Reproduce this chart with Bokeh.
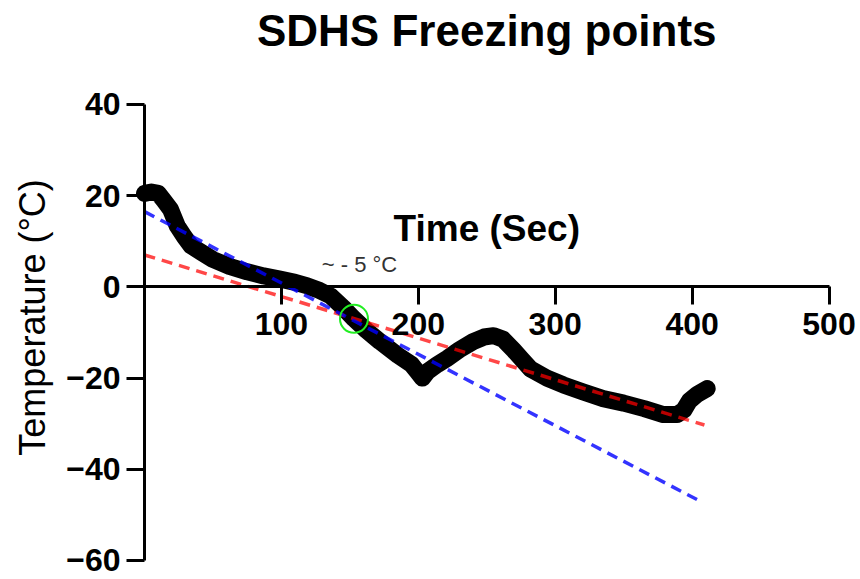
import math
from bokeh.plotting import figure
from bokeh.models import Range1d, LinearAxis, FixedTicker, Label
from bokeh.embed import file_html
from bokeh.resources import INLINE

# ---- data ----
time_s = [0, 5, 10, 14, 19, 24, 29, 34, 42, 50, 62, 75, 87, 99, 110, 119, 128, 136,
          145, 153, 162, 172, 185, 195, 199, 203, 207, 214, 221, 230, 240, 248, 255,
          262, 270, 276, 282, 294, 306, 320, 335, 350, 365, 379, 389, 394, 398, 404, 411]
temp_c = [20.5, 20.8, 20.5, 19, 17, 13.3, 11, 9, 7.5, 6, 4.5, 3.3, 2.4, 1.7, 1, 0.2, -0.8, -2,
          -4.5, -7, -9.5, -12, -15, -17, -18.5, -20, -18.5, -17, -15.7, -13.8, -12, -11, -10.7,
          -11.5, -14, -16, -18, -20, -21.5, -23, -24.5, -25.5, -26.7, -28, -28, -27, -25, -23.5, -22.3]

blue_fit_x = [0, 404]
blue_fit_y = [16.5, -46.7]
red_fit_x = [0, 409]
red_fit_y = [7.0, -30.3]

freeze_x = [153]
freeze_y = [-7]

x_ticks = [100, 200, 300, 400, 500]
y_ticks = [-60, -40, -20, 0, 20, 40]

FONT = "Liberation Sans"

# The frame covers the whole page; both axes are drawn at fixed locations
# (crossing at 0) and are bounded to their data extents.
p = figure(width=860, height=579, output_backend="svg", toolbar_location=None,
           x_range=Range1d(-105.2, 523.0), y_range=Range1d(-64.17, 62.8),
           x_axis_location=None, y_axis_location=None,
           min_border_left=0, min_border_right=0, min_border_top=0,
           min_border_bottom=0)
p.grid.visible = False
p.outline_line_color = None
p.background_fill_color = "white"
p.border_fill_color = "white"


def style_axis(ax, standoff):
    ax.major_label_text_font = FONT
    ax.major_label_text_font_size = "32px"
    ax.major_label_text_font_style = "bold"
    ax.major_label_text_color = "black"
    ax.major_label_standoff = standoff
    ax.major_tick_out = 18
    ax.major_tick_in = 0
    ax.minor_tick_out = 0
    ax.minor_tick_in = 0
    ax.axis_line_width = 3
    ax.axis_line_color = "black"
    ax.major_tick_line_width = 3
    ax.major_tick_line_color = "black"


ya = LinearAxis(fixed_location=0, ticker=FixedTicker(ticks=y_ticks), bounds=(-60, 40))
style_axis(ya, 6)
p.add_layout(ya, "left")

xa = LinearAxis(fixed_location=0, ticker=FixedTicker(ticks=x_ticks), bounds=(0, 500))
style_axis(xa, 8)
p.add_layout(xa, "below")

# data curve
p.line(time_s, temp_c, line_width=17, line_color="black",
       line_join="round", line_cap="round")

# fit lines
p.line(red_fit_x, red_fit_y, line_color="#ff0000", line_alpha=0.72,
       line_width=3.5, line_dash="11 7")
p.line(blue_fit_x, blue_fit_y, line_color="#0000ff", line_alpha=0.8,
       line_width=3.5, line_dash="11 7")

# freezing point marker
p.scatter(freeze_x, freeze_y, size=28, marker="circle", fill_color=None,
          line_color="#22ee22", line_width=2)

# title
p.add_layout(Label(x=250, y=56.2, text="SDHS Freezing points", text_align="center",
                   text_baseline="middle", text_font=FONT, text_font_size="44px",
                   text_font_style="bold", text_color="black"))

# axis titles
p.add_layout(Label(x=250, y=12.9, text="Time (Sec)", text_align="center",
                   text_baseline="middle", text_font=FONT, text_font_size="37px",
                   text_font_style="bold", text_color="black"))
p.add_layout(Label(x=-81.8, y=-6.7, text="Temperature (°C)", angle=math.pi / 2,
                   text_align="center", text_baseline="middle", text_font=FONT,
                   text_font_size="36px", text_color="black"))

# annotation
p.add_layout(Label(x=157, y=5, text="~ - 5 °C", text_align="center",
                   text_baseline="middle", text_font=FONT, text_font_size="22px",
                   text_color="#333333"))

open("out.html", "w").write(file_html(p, INLINE))
